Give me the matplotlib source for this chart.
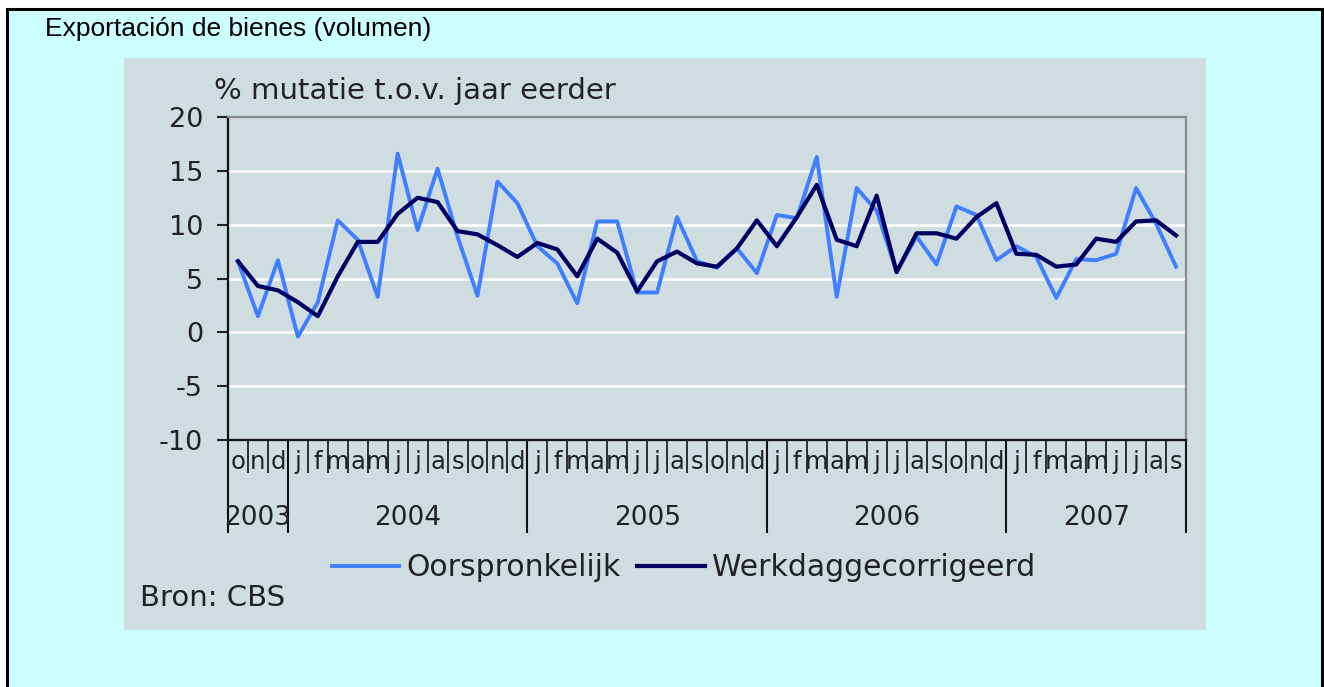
import matplotlib
matplotlib.use("Agg")
import matplotlib.pyplot as plt
import matplotlib.transforms as mtransforms
from matplotlib.patches import Rectangle

W, H = 1324, 687

# monthly data, Oct 2003 .. Sep 2007
month_letters = ["o", "n", "d"] + ["j", "f", "m", "a", "m", "j", "j", "a", "s", "o", "n", "d"] * 3 \
    + ["j", "f", "m", "a", "m", "j", "j", "a", "s"]
years = ["2003", "2004", "2005", "2006", "2007"]
months_per_year = [3, 12, 12, 12, 9]

oorspronkelijk = [6.6, 1.5, 6.7, -0.4, 2.8, 10.4, 8.6, 3.3, 16.6, 9.5, 15.2, 8.9,
                  3.4, 14.0, 12.0, 8.0, 6.4, 2.7, 10.3, 10.3, 3.7, 3.7, 10.7, 6.6,
                  6.0, 7.8, 5.5, 10.9, 10.6, 16.3, 3.3, 13.4, 11.3, 5.6, 8.9, 6.3,
                  11.7, 10.9, 6.7, 8.0, 7.0, 3.2, 6.8, 6.7, 7.3, 13.4, 10.1, 6.1]
werkdag = [6.6, 4.3, 3.9, 2.8, 1.5, 5.2, 8.4, 8.4, 11.0, 12.5, 12.1, 9.4,
           9.1, 8.1, 7.0, 8.3, 7.7, 5.2, 8.7, 7.4, 3.8, 6.6, 7.5, 6.4,
           6.1, 7.8, 10.4, 8.0, 10.7, 13.7, 8.6, 8.0, 12.7, 5.6, 9.2, 9.2,
           8.7, 10.7, 12.0, 7.3, 7.2, 6.1, 6.3, 8.7, 8.4, 10.3, 10.4, 9.0]
yticks = [-10, -5, 0, 5, 10, 15, 20]

LIGHT = "#3f7fff"
DARK = "#000060"
PANEL = "#cfdce0"
CYAN = "#ccffff"
FONT = "DejaVu Sans"


def fx(x):
    return x / W


def fy(y):
    return 1 - y / H


fig = plt.figure(figsize=(W / 100, H / 100), dpi=100, facecolor="white")

# outer cyan frame and inner grey panel
fig.patches.append(Rectangle((fx(7), fy(720)), fx(1322) - fx(7), fy(9) - fy(720),
                             transform=fig.transFigure, facecolor=CYAN,
                             edgecolor="black", linewidth=2.2, zorder=-3))
fig.patches.append(Rectangle((fx(124), fy(630)), fx(1206) - fx(124), fy(58) - fy(630),
                             transform=fig.transFigure, facecolor=PANEL,
                             edgecolor="none", zorder=-2))

fig.text(fx(45), fy(29), "Exportación de bienes (volumen)", fontsize=19,
         family="Liberation Sans", color="black", va="center", ha="left")

ax = fig.add_axes([fx(228), fy(440), fx(1186) - fx(228), fy(117) - fy(440)])
ax.set_facecolor(PANEL)

x = list(range(len(oorspronkelijk)))
ax.plot(x, oorspronkelijk, color=LIGHT, linewidth=2.8, label="Oorspronkelijk", zorder=3)
ax.plot(x, werkdag, color=DARK, linewidth=3.0, label="Werkdaggecorrigeerd", zorder=4)

ax.set_xlim(-0.5, len(x) - 0.5)
ax.set_ylim(-10, 20)
ax.set_yticks(yticks)
ax.set_yticklabels([str(v) for v in yticks], family=FONT, fontsize=19.5, color="#222222")
ax.tick_params(axis="y", length=8, width=1.5, pad=10, color="#222222")
for v in yticks[1:-1]:
    ax.axhline(v, color="white", linewidth=1.8, zorder=1)

for side in ["top", "right"]:
    ax.spines[side].set_color("#8a8a8a")
    ax.spines[side].set_linewidth(1.6)
for side in ["left", "bottom"]:
    ax.spines[side].set_color("#111111")
    ax.spines[side].set_linewidth(1.6)

# x axis: month separators (minor) and year separators (major)
bounds = [-0.5]
for n in months_per_year:
    bounds.append(bounds[-1] + n)
minor = [i - 0.5 for i in range(1, len(x)) if (i - 0.5) not in bounds]
ax.set_xticks(bounds)
ax.set_xticks(minor, minor=True)
ax.set_xticklabels([])
ax.tick_params(axis="x", which="major", length=67, width=1.5, direction="out", color="#111111")
ax.tick_params(axis="x", which="minor", length=24, width=1.2, direction="out", color="#111111")

trans = mtransforms.blended_transform_factory(ax.transData, ax.transAxes)
for i, m in enumerate(month_letters):
    ax.text(i, -22 / 323, m, transform=trans, ha="center", va="center",
            family=FONT, fontsize=17.5, color="#222222", clip_on=False)
for k, yr in enumerate(years):
    c = (bounds[k] + bounds[k + 1]) / 2
    ax.text(c, -78 / 323, yr, transform=trans, ha="center", va="center",
            family=FONT, fontsize=19, color="#222222", clip_on=False)

fig.text(fx(214), fy(99), "% mutatie t.o.v. jaar eerder", family=FONT, fontsize=21,
         color="#222222", ha="left", va="baseline")

ax.legend(loc="center left", bbox_to_anchor=(fx(332), fy(568)),
          bbox_transform=fig.transFigure, ncol=2, frameon=False,
          prop={"family": FONT, "size": 21.5}, handlelength=2.25,
          handletextpad=0.25, columnspacing=0.55, borderpad=0,
          borderaxespad=0, labelcolor="#222222")

fig.text(fx(140), fy(598), "Bron: CBS", family=FONT, fontsize=21,
         color="#222222", ha="left", va="center")

fig.savefig("out.png", dpi=100, facecolor="white")
